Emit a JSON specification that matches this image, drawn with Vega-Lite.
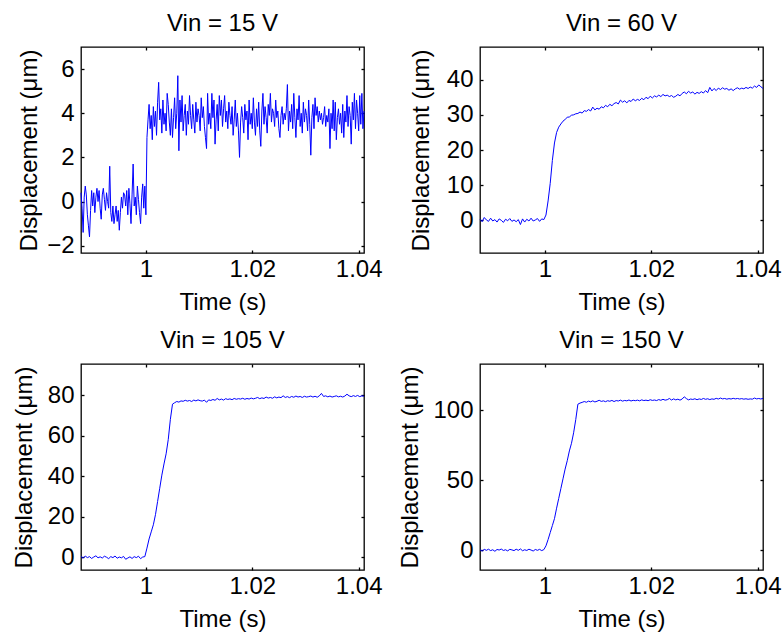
{
"$schema": "https://vega.github.io/schema/vega-lite/v6.json",
"background": "white",
"padding": {"left": 11, "top": 11, "right": 5, "bottom": 5},
"columns": 2,
"spacing": {"row": 111, "column": 116},
"bounds": "flush",
"config": {
 "view": {"stroke": "#000", "strokeWidth": 1.3},
 "font": "Liberation Sans",
 "axis": {"grid": false, "domain": false, "tickColor": "#000", "tickSize": -3, "tickWidth": 1.3, "labelFont": "Liberation Sans", "labelFontSize": 24, "labelColor": "#000", "titleFont": "Liberation Sans", "titleFontSize": 24, "titleFontWeight": "normal", "titleColor": "#000", "labelFlush": false, "labelOverlap": false},
 "axisX": {"labelBaseline": "alphabetic", "labelPadding": 26, "titleBaseline": "alphabetic", "titleY": 56},
 "axisY": {"labelPadding": 10, "titleBaseline": "alphabetic"},
 "title": {"font": "Liberation Sans", "fontSize": 24, "fontWeight": "normal", "color": "#000", "frame": "group", "baseline": "alphabetic", "offset": 10}
},
"datasets": {
"p15": [
{"t":0.9878,"d":0.4},{"t":0.988,"d":-0.3},{"t":0.9882,"d":-1.4},{"t":0.9884,"d":0.2},{"t":0.9886,"d":0.7},{"t":0.9888,"d":0.3},{"t":0.989,"d":-0.6},{"t":0.9892,"d":-1.1},{"t":0.9894,"d":-1.6},{"t":0.9896,"d":-0.4},
{"t":0.9898,"d":0.5},{"t":0.99,"d":-0.2},{"t":0.9902,"d":0.4},{"t":0.9904,"d":-0.5},{"t":0.9906,"d":0.2},{"t":0.9908,"d":0.6},{"t":0.991,"d":0.0},{"t":0.9912,"d":0.5},{"t":0.9914,"d":-0.3},{"t":0.9916,"d":-0.8},
{"t":0.9918,"d":0.3},{"t":0.992,"d":0.6},{"t":0.9922,"d":0.1},{"t":0.9924,"d":-0.4},{"t":0.9926,"d":0.4},{"t":0.9928,"d":0.0},{"t":0.993,"d":-0.3},{"t":0.9932,"d":1.6},{"t":0.9934,"d":-0.5},{"t":0.9936,"d":-0.9},
{"t":0.9938,"d":-0.2},{"t":0.994,"d":-1.0},{"t":0.9942,"d":-0.6},{"t":0.9944,"d":-0.2},{"t":0.9946,"d":-0.9},{"t":0.9948,"d":-0.4},{"t":0.995,"d":-1.3},{"t":0.9952,"d":-0.5},{"t":0.9954,"d":0.2},{"t":0.9956,"d":-0.3},
{"t":0.9958,"d":0.4},{"t":0.996,"d":0.3},{"t":0.9962,"d":-0.2},{"t":0.9964,"d":0.5},{"t":0.9966,"d":-0.6},{"t":0.9968,"d":0.6},{"t":0.997,"d":-0.1},{"t":0.9972,"d":-1.0},{"t":0.9974,"d":0.3},{"t":0.9976,"d":1.7},
{"t":0.9978,"d":-0.2},{"t":0.998,"d":0.2},{"t":0.9982,"d":-0.6},{"t":0.9984,"d":0.7},{"t":0.9986,"d":0.1},{"t":0.9988,"d":-0.5},{"t":0.999,"d":-1.0},{"t":0.9992,"d":0.2},{"t":0.9994,"d":0.8},{"t":0.9996,"d":-0.3},
{"t":0.9998,"d":0.7},{"t":1.0,"d":-0.6},{"t":1.0002,"d":2.9},{"t":1.0004,"d":3.7},
{"t":1.0006,"d":4.4},{"t":1.0008,"d":3.3},{"t":1.001,"d":3.9},{"t":1.0012,"d":2.8},{"t":1.0014,"d":4.3},{"t":1.0016,"d":3.4},{"t":1.0018,"d":4.1},{"t":1.002,"d":3.0},{"t":1.0022,"d":4.5},{"t":1.0024,"d":5.4},
{"t":1.0026,"d":3.7},{"t":1.0028,"d":4.2},{"t":1.003,"d":3.1},{"t":1.0032,"d":4.6},{"t":1.0034,"d":3.5},{"t":1.0036,"d":4.0},{"t":1.0038,"d":3.2},{"t":1.004,"d":4.9},{"t":1.0042,"d":4.4},{"t":1.0044,"d":3.6},
{"t":1.0046,"d":3.0},{"t":1.0048,"d":4.2},{"t":1.005,"d":2.9},{"t":1.0052,"d":3.8},{"t":1.0054,"d":4.7},{"t":1.0056,"d":3.3},{"t":1.0058,"d":4.0},{"t":1.006,"d":5.7},{"t":1.0062,"d":2.3},{"t":1.0064,"d":4.6},
{"t":1.0066,"d":3.6},{"t":1.0068,"d":4.8},{"t":1.007,"d":3.2},{"t":1.0072,"d":3.9},{"t":1.0074,"d":4.4},{"t":1.0076,"d":3.0},{"t":1.0078,"d":4.1},{"t":1.008,"d":3.5},{"t":1.0082,"d":4.8},{"t":1.0084,"d":3.9},
{"t":1.0086,"d":3.3},{"t":1.0088,"d":4.4},{"t":1.009,"d":3.7},{"t":1.0092,"d":3.1},{"t":1.0094,"d":4.5},{"t":1.0096,"d":3.6},{"t":1.0098,"d":4.2},{"t":1.01,"d":3.9},{"t":1.0102,"d":3.2},{"t":1.0104,"d":4.7},
{"t":1.0106,"d":3.8},{"t":1.0108,"d":4.3},{"t":1.011,"d":3.4},{"t":1.0112,"d":2.9},{"t":1.0114,"d":2.4},{"t":1.0116,"d":4.9},{"t":1.0118,"d":3.5},{"t":1.012,"d":4.0},{"t":1.0122,"d":3.3},{"t":1.0124,"d":4.9},
{"t":1.0126,"d":3.8},{"t":1.0128,"d":4.6},{"t":1.013,"d":2.6},{"t":1.0132,"d":3.7},{"t":1.0134,"d":4.4},{"t":1.0136,"d":3.2},{"t":1.0138,"d":4.8},{"t":1.014,"d":3.9},{"t":1.0142,"d":4.6},{"t":1.0144,"d":3.4},
{"t":1.0146,"d":4.2},{"t":1.0148,"d":4.8},{"t":1.015,"d":3.6},{"t":1.0152,"d":4.1},{"t":1.0154,"d":3.3},{"t":1.0156,"d":4.5},{"t":1.0158,"d":3.9},{"t":1.016,"d":3.5},{"t":1.0162,"d":4.3},{"t":1.0164,"d":3.0},
{"t":1.0166,"d":3.7},{"t":1.0168,"d":4.6},{"t":1.017,"d":3.4},{"t":1.0172,"d":4.0},{"t":1.0174,"d":3.2},{"t":1.0176,"d":2.0},{"t":1.0178,"d":3.6},{"t":1.018,"d":4.3},{"t":1.0182,"d":3.8},{"t":1.0184,"d":3.1},
{"t":1.0186,"d":4.4},{"t":1.0188,"d":3.7},{"t":1.019,"d":4.1},{"t":1.0192,"d":2.8},{"t":1.0194,"d":4.6},{"t":1.0196,"d":3.5},{"t":1.0198,"d":4.0},{"t":1.02,"d":3.3},{"t":1.0202,"d":4.7},{"t":1.0204,"d":3.6},
{"t":1.0206,"d":3.0},{"t":1.0208,"d":4.2},{"t":1.021,"d":3.4},{"t":1.0212,"d":4.5},{"t":1.0214,"d":3.2},{"t":1.0216,"d":2.5},{"t":1.0218,"d":4.1},{"t":1.022,"d":4.9},{"t":1.0222,"d":3.5},{"t":1.0224,"d":4.3},
{"t":1.0226,"d":3.8},{"t":1.0228,"d":3.1},{"t":1.023,"d":4.4},{"t":1.0232,"d":3.9},{"t":1.0234,"d":4.9},{"t":1.0236,"d":3.6},{"t":1.0238,"d":4.2},{"t":1.024,"d":4.0},{"t":1.0242,"d":3.4},{"t":1.0244,"d":4.6},
{"t":1.0246,"d":3.8},{"t":1.0248,"d":4.1},{"t":1.025,"d":3.3},{"t":1.0252,"d":2.9},{"t":1.0254,"d":3.9},{"t":1.0256,"d":4.3},{"t":1.0258,"d":3.5},{"t":1.026,"d":4.0},{"t":1.0262,"d":3.7},{"t":1.0264,"d":4.2},
{"t":1.0266,"d":5.3},{"t":1.0268,"d":3.2},{"t":1.027,"d":4.1},{"t":1.0272,"d":3.6},{"t":1.0274,"d":4.4},{"t":1.0276,"d":3.3},{"t":1.0278,"d":4.9},{"t":1.028,"d":3.8},{"t":1.0282,"d":2.9},{"t":1.0284,"d":4.2},
{"t":1.0286,"d":3.7},{"t":1.0288,"d":4.8},{"t":1.029,"d":3.4},{"t":1.0292,"d":4.0},{"t":1.0294,"d":3.1},{"t":1.0296,"d":4.5},{"t":1.0298,"d":3.6},{"t":1.03,"d":4.2},{"t":1.0302,"d":3.9},{"t":1.0304,"d":3.2},
{"t":1.0306,"d":4.6},{"t":1.0308,"d":3.5},{"t":1.031,"d":2.1},{"t":1.0312,"d":3.8},{"t":1.0314,"d":4.4},{"t":1.0316,"d":3.3},{"t":1.0318,"d":4.7},{"t":1.032,"d":3.9},{"t":1.0322,"d":4.3},{"t":1.0324,"d":3.6},
{"t":1.0326,"d":4.1},{"t":1.0328,"d":3.7},{"t":1.033,"d":4.0},{"t":1.0332,"d":3.5},{"t":1.0334,"d":3.8},{"t":1.0336,"d":4.3},{"t":1.0338,"d":3.4},{"t":1.034,"d":3.9},{"t":1.0342,"d":3.6},{"t":1.0344,"d":4.2},
{"t":1.0346,"d":2.4},{"t":1.0348,"d":4.0},{"t":1.035,"d":3.3},{"t":1.0352,"d":4.6},{"t":1.0354,"d":3.2},{"t":1.0356,"d":4.5},{"t":1.0358,"d":2.8},{"t":1.036,"d":3.8},{"t":1.0362,"d":4.2},{"t":1.0364,"d":3.5},
{"t":1.0366,"d":4.0},{"t":1.0368,"d":3.1},{"t":1.037,"d":4.4},{"t":1.0372,"d":2.9},{"t":1.0374,"d":4.1},{"t":1.0376,"d":3.6},{"t":1.0378,"d":4.8},{"t":1.038,"d":3.4},{"t":1.0382,"d":4.3},{"t":1.0384,"d":3.9},
{"t":1.0386,"d":2.6},{"t":1.0388,"d":4.5},{"t":1.039,"d":3.7},{"t":1.0392,"d":4.9},{"t":1.0394,"d":3.3},{"t":1.0396,"d":4.6},{"t":1.0398,"d":4.0},{"t":1.04,"d":3.2},{"t":1.0402,"d":4.8},{"t":1.0404,"d":3.5},
{"t":1.0406,"d":4.9},{"t":1.0408,"d":3.3},{"t":1.041,"d":4.1}
],
"p60": [
{"t":0.9878,"d":0.3},{"t":0.9882,"d":-0.4},{"t":0.9886,"d":0.8},{"t":0.989,"d":0.1},{"t":0.9894,"d":-0.3},{"t":0.9898,"d":0.6},{"t":0.9902,"d":-0.2},{"t":0.9906,"d":0.2},{"t":0.991,"d":-0.5},{"t":0.9914,"d":0.4},
{"t":0.9918,"d":0.0},{"t":0.9922,"d":-0.6},{"t":0.9926,"d":0.3},{"t":0.993,"d":-0.1},{"t":0.9934,"d":0.5},{"t":0.9938,"d":-0.3},{"t":0.9942,"d":0.1},{"t":0.9946,"d":-0.4},{"t":0.995,"d":0.2},{"t":0.9954,"d":-1.2},
{"t":0.9958,"d":0.4},{"t":0.9962,"d":-0.5},{"t":0.9966,"d":0.3},{"t":0.997,"d":-0.2},{"t":0.9974,"d":0.6},{"t":0.9978,"d":-0.2},{"t":0.9982,"d":0.1},{"t":0.9986,"d":0.5},{"t":0.999,"d":-0.3},{"t":0.9994,"d":0.4},
{"t":0.9998,"d":0.2},{"t":1.0002,"d":1.5},{"t":1.0006,"d":5.5},{"t":1.001,"d":10.5},{"t":1.0014,"d":17.0},{"t":1.0018,"d":22.0},{"t":1.0022,"d":25.0},{"t":1.0026,"d":26.5},{"t":1.003,"d":27.4},{"t":1.0034,"d":28.2},
{"t":1.0038,"d":28.7},{"t":1.0042,"d":29.3},{"t":1.0046,"d":29.4},{"t":1.005,"d":29.9},{"t":1.0054,"d":30.0},{"t":1.0058,"d":30.3},{"t":1.0062,"d":30.4},{"t":1.0066,"d":30.8},{"t":1.007,"d":30.5},{"t":1.0074,"d":31.2},
{"t":1.0078,"d":31.0},{"t":1.0082,"d":31.5},{"t":1.0086,"d":31.1},{"t":1.009,"d":32.2},{"t":1.0094,"d":31.4},{"t":1.0098,"d":31.9},{"t":1.0102,"d":31.6},{"t":1.0106,"d":32.3},{"t":1.011,"d":32.0},{"t":1.0114,"d":32.7},
{"t":1.0118,"d":32.3},{"t":1.0122,"d":33.0},{"t":1.0126,"d":32.6},{"t":1.013,"d":33.2},{"t":1.0134,"d":33.5},{"t":1.0138,"d":33.1},{"t":1.0142,"d":34.2},{"t":1.0146,"d":33.6},{"t":1.015,"d":34.0},{"t":1.0154,"d":33.4},
{"t":1.0158,"d":34.1},{"t":1.0162,"d":33.8},{"t":1.0166,"d":34.5},{"t":1.017,"d":34.0},{"t":1.0174,"d":34.4},{"t":1.0178,"d":34.1},{"t":1.0182,"d":34.7},{"t":1.0186,"d":34.3},{"t":1.019,"d":35.0},{"t":1.0194,"d":34.6},
{"t":1.0198,"d":35.3},{"t":1.0202,"d":34.8},{"t":1.0206,"d":35.4},{"t":1.021,"d":35.1},{"t":1.0214,"d":35.6},{"t":1.0218,"d":35.2},{"t":1.0222,"d":35.8},{"t":1.0226,"d":35.4},{"t":1.023,"d":35.6},{"t":1.0234,"d":35.2},
{"t":1.0238,"d":35.5},{"t":1.0242,"d":35.0},{"t":1.0246,"d":35.3},{"t":1.025,"d":35.8},{"t":1.0254,"d":35.4},{"t":1.0258,"d":36.1},{"t":1.0262,"d":36.5},{"t":1.0266,"d":36.0},{"t":1.027,"d":36.7},{"t":1.0274,"d":36.2},
{"t":1.0278,"d":36.5},{"t":1.0282,"d":35.9},{"t":1.0286,"d":36.4},{"t":1.029,"d":36.1},{"t":1.0294,"d":36.6},{"t":1.0298,"d":36.2},{"t":1.0302,"d":36.9},{"t":1.0306,"d":36.3},{"t":1.031,"d":37.8},{"t":1.0314,"d":36.8},
{"t":1.0318,"d":37.5},{"t":1.0322,"d":36.9},{"t":1.0326,"d":37.6},{"t":1.033,"d":37.2},{"t":1.0334,"d":37.7},{"t":1.0338,"d":37.3},{"t":1.0342,"d":37.5},{"t":1.0346,"d":37.0},{"t":1.035,"d":37.4},{"t":1.0354,"d":36.9},
{"t":1.0358,"d":37.4},{"t":1.0362,"d":37.7},{"t":1.0366,"d":37.3},{"t":1.037,"d":37.6},{"t":1.0374,"d":37.4},{"t":1.0378,"d":37.8},{"t":1.0382,"d":37.5},{"t":1.0386,"d":37.9},{"t":1.039,"d":37.6},{"t":1.0394,"d":38.2},
{"t":1.0398,"d":37.8},{"t":1.0402,"d":38.5},{"t":1.0406,"d":38.0},{"t":1.041,"d":37.5}
],
"p105": [
{"t":0.9878,"d":0.4},{"t":0.9882,"d":-0.5},{"t":0.9886,"d":0.6},{"t":0.989,"d":-0.2},{"t":0.9894,"d":0.3},{"t":0.9898,"d":-0.6},{"t":0.9902,"d":0.1},{"t":0.9906,"d":0.7},{"t":0.991,"d":-0.3},{"t":0.9914,"d":0.2},
{"t":0.9918,"d":-0.4},{"t":0.9922,"d":0.5},{"t":0.9926,"d":0.0},{"t":0.993,"d":-0.7},{"t":0.9934,"d":0.3},{"t":0.9938,"d":-0.2},{"t":0.9942,"d":0.6},{"t":0.9946,"d":-0.5},{"t":0.995,"d":0.1},{"t":0.9954,"d":-0.3},
{"t":0.9958,"d":0.4},{"t":0.9962,"d":-1.0},{"t":0.9966,"d":-0.4},{"t":0.997,"d":0.2},{"t":0.9974,"d":-0.6},{"t":0.9978,"d":0.3},{"t":0.9982,"d":-0.2},{"t":0.9986,"d":0.5},{"t":0.999,"d":-0.7},{"t":0.9994,"d":0.1},
{"t":0.9998,"d":0.3},{"t":1.0002,"d":4.5},{"t":1.0006,"d":9.0},{"t":1.001,"d":12.5},{"t":1.0014,"d":16.0},{"t":1.0018,"d":21.0},{"t":1.0022,"d":27.5},{"t":1.0026,"d":34.0},{"t":1.003,"d":40.5},{"t":1.0034,"d":46.0},
{"t":1.0038,"d":51.0},{"t":1.0042,"d":58.0},{"t":1.0046,"d":68.0},{"t":1.005,"d":75.5},{"t":1.0054,"d":76.2},{"t":1.0058,"d":76.8},{"t":1.0062,"d":76.5},{"t":1.0066,"d":77.1},{"t":1.007,"d":76.9},{"t":1.0074,"d":77.4},
{"t":1.0078,"d":77.0},{"t":1.0082,"d":77.3},{"t":1.0086,"d":76.8},{"t":1.009,"d":77.5},{"t":1.0094,"d":77.1},{"t":1.0098,"d":77.6},{"t":1.0102,"d":77.2},{"t":1.0106,"d":77.0},{"t":1.011,"d":77.5},{"t":1.0114,"d":76.4},
{"t":1.0118,"d":77.6},{"t":1.0122,"d":77.3},{"t":1.0126,"d":77.8},{"t":1.013,"d":77.4},{"t":1.0134,"d":78.3},{"t":1.0138,"d":77.6},{"t":1.0142,"d":78.0},{"t":1.0146,"d":77.5},{"t":1.015,"d":78.2},{"t":1.0154,"d":77.8},
{"t":1.0158,"d":78.1},{"t":1.0162,"d":77.7},{"t":1.0166,"d":78.3},{"t":1.017,"d":77.9},{"t":1.0174,"d":78.2},{"t":1.0178,"d":78.0},{"t":1.0182,"d":78.4},{"t":1.0186,"d":77.9},{"t":1.019,"d":78.3},{"t":1.0194,"d":78.0},
{"t":1.0198,"d":78.5},{"t":1.0202,"d":78.1},{"t":1.0206,"d":78.4},{"t":1.021,"d":78.8},{"t":1.0214,"d":78.2},{"t":1.0218,"d":78.6},{"t":1.0222,"d":78.3},{"t":1.0226,"d":79.0},{"t":1.023,"d":78.5},{"t":1.0234,"d":78.8},
{"t":1.0238,"d":78.4},{"t":1.0242,"d":79.1},{"t":1.0246,"d":78.6},{"t":1.025,"d":79.0},{"t":1.0254,"d":78.7},{"t":1.0258,"d":79.6},{"t":1.0262,"d":78.8},{"t":1.0266,"d":79.2},{"t":1.027,"d":78.7},{"t":1.0274,"d":79.3},
{"t":1.0278,"d":78.9},{"t":1.0282,"d":79.5},{"t":1.0286,"d":79.0},{"t":1.029,"d":79.3},{"t":1.0294,"d":78.8},{"t":1.0298,"d":79.4},{"t":1.0302,"d":79.0},{"t":1.0306,"d":79.2},{"t":1.031,"d":79.5},{"t":1.0314,"d":79.0},
{"t":1.0318,"d":79.4},{"t":1.0322,"d":78.9},{"t":1.0326,"d":79.6},{"t":1.033,"d":80.8},{"t":1.0334,"d":79.3},{"t":1.0338,"d":79.6},{"t":1.0342,"d":79.1},{"t":1.0346,"d":79.5},{"t":1.035,"d":79.0},{"t":1.0354,"d":79.3},
{"t":1.0358,"d":79.6},{"t":1.0362,"d":79.1},{"t":1.0366,"d":79.4},{"t":1.037,"d":79.0},{"t":1.0374,"d":79.5},{"t":1.0378,"d":80.4},{"t":1.0382,"d":79.6},{"t":1.0386,"d":79.2},{"t":1.039,"d":79.7},{"t":1.0394,"d":79.3},
{"t":1.0398,"d":79.8},{"t":1.0402,"d":79.2},{"t":1.0406,"d":79.6},{"t":1.041,"d":79.4}
],
"p150": [
{"t":0.9878,"d":0.3},{"t":0.9882,"d":-0.8},{"t":0.9886,"d":0.5},{"t":0.989,"d":-0.2},{"t":0.9894,"d":0.6},{"t":0.9898,"d":-0.4},{"t":0.9902,"d":0.2},{"t":0.9906,"d":-0.9},{"t":0.991,"d":0.4},{"t":0.9914,"d":0.0},
{"t":0.9918,"d":0.7},{"t":0.9922,"d":-0.3},{"t":0.9926,"d":0.2},{"t":0.993,"d":-0.6},{"t":0.9934,"d":0.5},{"t":0.9938,"d":0.1},{"t":0.9942,"d":-0.4},{"t":0.9946,"d":0.6},{"t":0.995,"d":-0.2},{"t":0.9954,"d":0.8},
{"t":0.9958,"d":-0.5},{"t":0.9962,"d":0.2},{"t":0.9966,"d":-0.3},{"t":0.997,"d":0.6},{"t":0.9974,"d":0.0},{"t":0.9978,"d":-0.7},{"t":0.9982,"d":0.4},{"t":0.9986,"d":-0.2},{"t":0.999,"d":0.5},{"t":0.9994,"d":-0.4},
{"t":0.9998,"d":0.3},{"t":1.0002,"d":3.0},{"t":1.0006,"d":7.5},{"t":1.001,"d":12.5},{"t":1.0014,"d":17.5},{"t":1.0018,"d":22.5},{"t":1.0022,"d":30.0},{"t":1.0026,"d":37.0},{"t":1.003,"d":44.0},{"t":1.0034,"d":51.0},
{"t":1.0038,"d":58.0},{"t":1.0042,"d":64.0},{"t":1.0046,"d":71.0},{"t":1.005,"d":76.5},{"t":1.0054,"d":84.0},{"t":1.0058,"d":93.5},{"t":1.0062,"d":104.5},{"t":1.0066,"d":105.3},{"t":1.007,"d":105.8},{"t":1.0074,"d":106.4},
{"t":1.0078,"d":105.9},{"t":1.0082,"d":106.7},{"t":1.0086,"d":106.2},{"t":1.009,"d":106.9},{"t":1.0094,"d":106.1},{"t":1.0098,"d":106.6},{"t":1.0102,"d":107.3},{"t":1.0106,"d":106.5},{"t":1.011,"d":106.9},{"t":1.0114,"d":106.3},
{"t":1.0118,"d":107.0},{"t":1.0122,"d":106.6},{"t":1.0126,"d":107.2},{"t":1.013,"d":106.4},{"t":1.0134,"d":107.1},{"t":1.0138,"d":106.8},{"t":1.0142,"d":107.4},{"t":1.0146,"d":106.7},{"t":1.015,"d":107.2},{"t":1.0154,"d":106.9},
{"t":1.0158,"d":107.5},{"t":1.0162,"d":106.8},{"t":1.0166,"d":107.3},{"t":1.017,"d":107.0},{"t":1.0174,"d":107.4},{"t":1.0178,"d":106.9},{"t":1.0182,"d":107.6},{"t":1.0186,"d":107.1},{"t":1.019,"d":107.4},{"t":1.0194,"d":107.0},
{"t":1.0198,"d":107.7},{"t":1.0202,"d":107.2},{"t":1.0206,"d":107.5},{"t":1.021,"d":107.1},{"t":1.0214,"d":107.8},{"t":1.0218,"d":107.3},{"t":1.0222,"d":108.0},{"t":1.0226,"d":107.4},{"t":1.023,"d":107.7},{"t":1.0234,"d":108.6},
{"t":1.0238,"d":107.5},{"t":1.0242,"d":108.3},{"t":1.0246,"d":107.6},{"t":1.025,"d":108.1},{"t":1.0254,"d":107.4},{"t":1.0258,"d":108.2},{"t":1.0262,"d":109.8},{"t":1.0266,"d":108.5},{"t":1.027,"d":107.6},{"t":1.0274,"d":108.2},
{"t":1.0278,"d":107.9},{"t":1.0282,"d":108.4},{"t":1.0286,"d":107.7},{"t":1.029,"d":108.3},{"t":1.0294,"d":107.9},{"t":1.0298,"d":108.6},{"t":1.0302,"d":108.0},{"t":1.0306,"d":108.4},{"t":1.031,"d":107.8},{"t":1.0314,"d":108.3},
{"t":1.0318,"d":108.0},{"t":1.0322,"d":108.7},{"t":1.0326,"d":108.2},{"t":1.033,"d":108.9},{"t":1.0334,"d":108.3},{"t":1.0338,"d":108.6},{"t":1.0342,"d":108.1},{"t":1.0346,"d":108.5},{"t":1.035,"d":108.2},{"t":1.0354,"d":108.7},
{"t":1.0358,"d":108.3},{"t":1.0362,"d":108.6},{"t":1.0366,"d":108.2},{"t":1.037,"d":108.5},{"t":1.0374,"d":108.1},{"t":1.0378,"d":108.4},{"t":1.0382,"d":108.0},{"t":1.0386,"d":108.3},{"t":1.039,"d":108.1},{"t":1.0394,"d":108.9},
{"t":1.0398,"d":108.3},{"t":1.0402,"d":108.6},{"t":1.0406,"d":108.2},{"t":1.041,"d":108.7}
]
},
"concat": [
{
 "title": {"text": "Vin = 15 V"},
 "width": 283, "height": 206,
 "data": {"name": "p15"},
 "layer": [
  {"mark": {"type": "line", "color": "#0000ff", "strokeWidth": 1},
   "encoding": {
    "x": {"field": "t", "type": "quantitative", "scale": {"domain": [0.9878, 1.041], "nice": false, "zero": false}, "axis": {"title": "Time (s)", "values": [1, 1.02, 1.04], "format": "~g"}},
    "y": {"field": "d", "type": "quantitative", "scale": {"domain": [-2.33, 7], "nice": false, "zero": false}, "axis": {"title": "Displacement (μm)", "values": [-2, 0, 2, 4, 6], "titleX": -45}}
   }},
  {"mark": {"type": "line", "opacity": 0},
   "encoding": {
    "x": {"field": "t", "type": "quantitative", "axis": {"orient": "top", "labels": false, "title": null, "values": [1, 1.02, 1.04]}},
    "y": {"field": "d", "type": "quantitative", "axis": {"orient": "right", "labels": false, "title": null, "values": [-2, 0, 2, 4, 6]}}
   }}
 ],
 "resolve": {"axis": {"x": "independent", "y": "independent"}}
},
{
 "title": {"text": "Vin = 60 V"},
 "width": 283, "height": 206,
 "data": {"name": "p60"},
 "layer": [
  {"mark": {"type": "line", "color": "#0000ff", "strokeWidth": 1},
   "encoding": {
    "x": {"field": "t", "type": "quantitative", "scale": {"domain": [0.9878, 1.041], "nice": false, "zero": false}, "axis": {"title": "Time (s)", "values": [1, 1.02, 1.04], "format": "~g"}},
    "y": {"field": "d", "type": "quantitative", "scale": {"domain": [-9.3, 49.3], "nice": false, "zero": false}, "axis": {"title": "Displacement (μm)", "values": [0, 10, 20, 30, 40], "titleX": -52}}
   }},
  {"mark": {"type": "line", "opacity": 0},
   "encoding": {
    "x": {"field": "t", "type": "quantitative", "axis": {"orient": "top", "labels": false, "title": null, "values": [1, 1.02, 1.04]}},
    "y": {"field": "d", "type": "quantitative", "axis": {"orient": "right", "labels": false, "title": null, "values": [0, 10, 20, 30, 40]}}
   }}
 ],
 "resolve": {"axis": {"x": "independent", "y": "independent"}}
},
{
 "title": {"text": "Vin = 105 V"},
 "width": 283, "height": 206,
 "data": {"name": "p105"},
 "layer": [
  {"mark": {"type": "line", "color": "#0000ff", "strokeWidth": 1},
   "encoding": {
    "x": {"field": "t", "type": "quantitative", "scale": {"domain": [0.9878, 1.041], "nice": false, "zero": false}, "axis": {"title": "Time (s)", "values": [1, 1.02, 1.04], "format": "~g"}},
    "y": {"field": "d", "type": "quantitative", "scale": {"domain": [-6.3, 95.3], "nice": false, "zero": false}, "axis": {"title": "Displacement (μm)", "values": [0, 20, 40, 60, 80], "titleX": -50}}
   }},
  {"mark": {"type": "line", "opacity": 0},
   "encoding": {
    "x": {"field": "t", "type": "quantitative", "axis": {"orient": "top", "labels": false, "title": null, "values": [1, 1.02, 1.04]}},
    "y": {"field": "d", "type": "quantitative", "axis": {"orient": "right", "labels": false, "title": null, "values": [0, 20, 40, 60, 80]}}
   }}
 ],
 "resolve": {"axis": {"x": "independent", "y": "independent"}}
},
{
 "title": {"text": "Vin = 150 V"},
 "width": 283, "height": 206,
 "data": {"name": "p150"},
 "layer": [
  {"mark": {"type": "line", "color": "#0000ff", "strokeWidth": 1},
   "encoding": {
    "x": {"field": "t", "type": "quantitative", "scale": {"domain": [0.9878, 1.041], "nice": false, "zero": false}, "axis": {"title": "Time (s)", "values": [1, 1.02, 1.04], "format": "~g"}},
    "y": {"field": "d", "type": "quantitative", "scale": {"domain": [-14.3, 133.3], "nice": false, "zero": false}, "axis": {"title": "Displacement (μm)", "values": [0, 50, 100], "titleX": -63}}
   }},
  {"mark": {"type": "line", "opacity": 0},
   "encoding": {
    "x": {"field": "t", "type": "quantitative", "axis": {"orient": "top", "labels": false, "title": null, "values": [1, 1.02, 1.04]}},
    "y": {"field": "d", "type": "quantitative", "axis": {"orient": "right", "labels": false, "title": null, "values": [0, 50, 100]}}
   }}
 ],
 "resolve": {"axis": {"x": "independent", "y": "independent"}}
}
]
}
